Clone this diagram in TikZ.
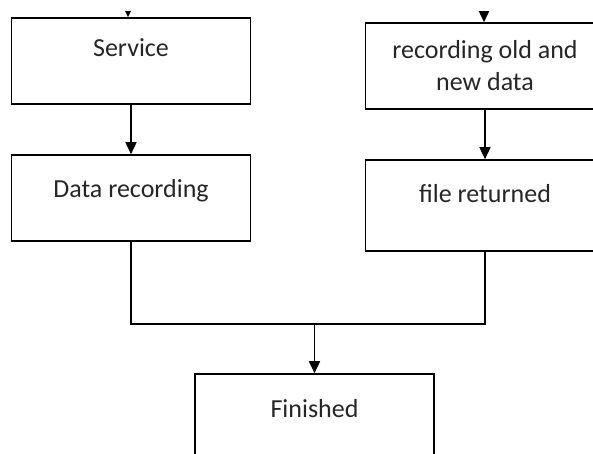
\documentclass[tikz,border=0pt]{standalone}
\usepackage{fontspec}
\setmainfont{Carlito}
\usetikzlibrary{arrows.meta,positioning}

\begin{document}
\begin{tikzpicture}[%
    x=1pt, y=-1pt,
    >={Triangle[width=11pt,length=12pt]},
    line width=1.6pt,
    node distance=137pt,
    on grid,
    box/.style={draw, minimum width=239pt, minimum height=86pt,
      inner sep=0pt, text=black!85, font=\fontsize{26}{32}\selectfont}
  ]
    \useasboundingbox (0,0) rectangle (593,454);
    \clip (0,12) rectangle (593,454);

    % left branch
    \node[box, text height=39pt, text depth=47pt] (srv) at (131,61) {Service};
    \node[box, text height=42pt, text depth=44pt] (rec) [below=of srv] {Data recording};

    % right branch
    \node[box, align=center] (old) at (485,66) {recording old and\\new data};
    \node[box, text height=42pt, text depth=49pt] (ret) [below=139.5pt of old] {file returned};

    % end
    \node[box, text height=43pt, text depth=47pt] (fin) at (314.5,419) {Finished};

    \coordinate (srvin) at (128,-20);
    \coordinate (oldin) at (484,-20);
    \coordinate[above=49pt of fin.north] (merge);

    \draw[->] (srvin) -- (srvin |- srv.north);
    \draw[->] (oldin) -- (oldin |- old.north);
    \draw[->] (srv) -- (rec);
    \draw[->] (old) -- (ret);
    \draw (rec.south) |- (merge) -| (ret.south);
    \draw[->] (merge) -- (fin);
  \end{tikzpicture}
\end{document}
